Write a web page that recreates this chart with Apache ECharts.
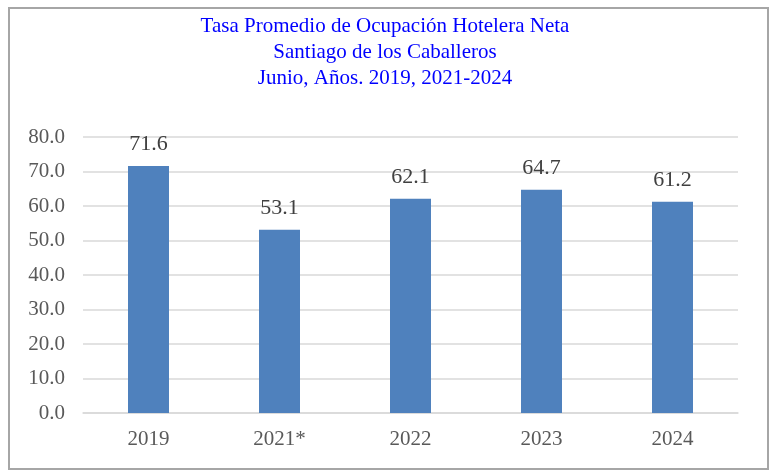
<!DOCTYPE html>
<html>
<head>
<meta charset="utf-8">
<script src="https://cdn.jsdelivr.net/npm/echarts@6/dist/echarts.min.js"></script>
<style>
	html, body { margin: 0; padding: 0; background: #fff; }
	#frame { position: absolute; left: 8px; top: 7px; width: 757px; height: 459px; border: 2px solid #a6a6a6; }
	#chart { width: 770px; height: 471px; position: absolute; left: 0; top: 0; }
</style>
</head>
<body>
<div id="frame"></div>
<div id="chart"></div>
<script>
	// datos
	let categories = ['2019', '2021*', '2022', '2023', '2024'];
	let tasa = [71.6, 53.1, 62.1, 64.7, 61.2];
	let titleLines = [
		'Tasa Promedio de Ocupación Hotelera Neta',
		'Santiago de los Caballeros',
		'Junio, Años. 2019, 2021-2024'
	];

	let chart = echarts.init(document.getElementById('chart'), null, { renderer: 'canvas' });
	let font = '"Liberation Serif", "Times New Roman", serif';
	let option = {
		animation: false,
		title: {
			left: 'center',
			top: 8,
			text: titleLines.join('\n'),
			textStyle: {
				color: '#0000ff',
				fontFamily: font,
				fontWeight: 'normal',
				fontSize: 21,
				lineHeight: 26
			}
		},
		grid: {
			left: 83,
			right: 32,
			top: 137,
			bottom: 58,
			containLabel: false
		},
		xAxis: {
			type: 'category',
			data: categories,
			axisLine: { lineStyle: { color: '#d9d9d9', width: 1.5 } },
			axisTick: { show: false },
			axisLabel: {
				color: '#595959',
				fontFamily: font,
				fontSize: 21,
				margin: 16
			}
		},
		yAxis: {
			type: 'value',
			min: 0,
			max: 80,
			interval: 10,
			axisLine: { show: false },
			axisTick: { show: false },
			splitLine: { lineStyle: { color: '#d9d9d9', width: 1.5 } },
			axisLabel: {
				color: '#595959',
				fontFamily: font,
				fontSize: 21,
				margin: 18,
				formatter: function (v) { return v.toFixed(1); }
			}
		},
		series: [{
			type: 'bar',
			data: tasa,
			barWidth: 41,
			itemStyle: { color: '#4f81bd' },
			label: {
				show: true,
				position: 'top',
				distance: 11,
				color: '#404040',
				fontFamily: font,
				fontSize: 22,
				formatter: function (p) { return p.value.toFixed(1); }
			}
		}]
	};
	chart.setOption(option);
</script>
</body>
</html>
